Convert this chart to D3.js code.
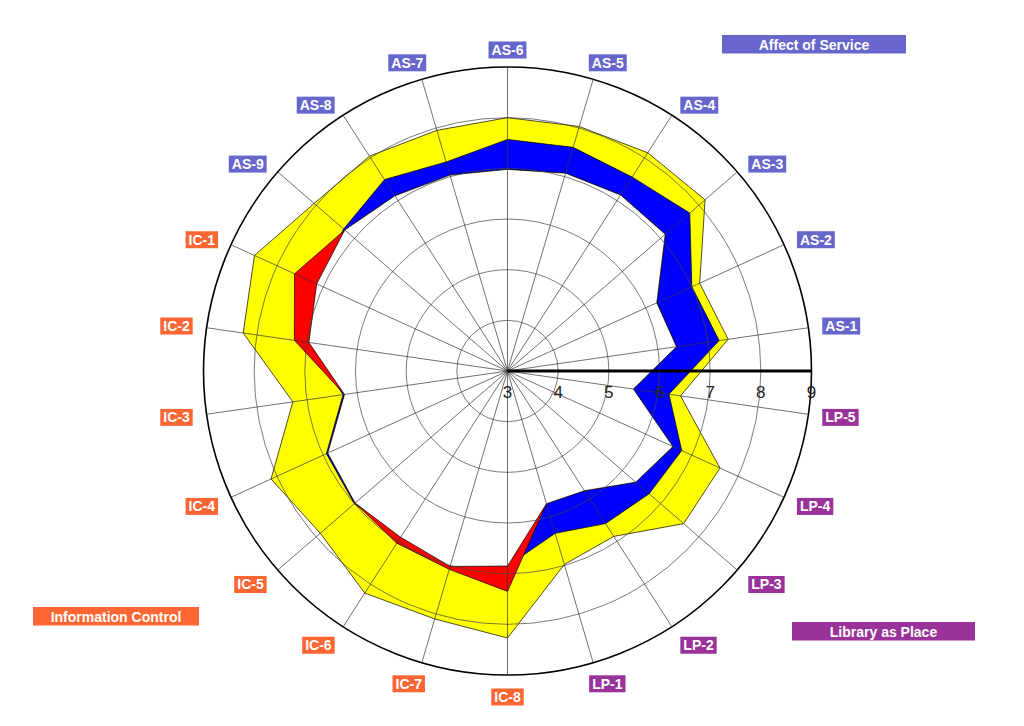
<html>
<script src='https://d3js.org/d3.v7.min.js'></script>
<style>
body {margin:0; background:#fff;}
text {font-family: "Liberation Sans", Arial, sans-serif;}
</style>
<body onload='init()'>
<svg width=1024 height=726></svg>
<script>
// dimensions, AS-1..AS-9, IC-1..IC-8, LP-1..LP-5 (counter-clockwise)
var categories = ["AS-1","AS-2","AS-3","AS-4","AS-5","AS-6","AS-7","AS-8","AS-9",
  "IC-1","IC-2","IC-3","IC-4","IC-5","IC-6","IC-7","IC-8",
  "LP-1","LP-2","LP-3","LP-4","LP-5"];

var minimum = [6.37,6.24,7.12,7.13,7.07,6.98,7.03,7.11,7.25,
  7.62,7.25,6.25,6.90,6.98,7.04,7.08,7.35,
  5.73,5.81,6.35,6.59,5.51];

var perceived = [7.22,7.00,7.76,7.55,7.60,7.57,7.30,7.49,7.28,
  7.14,6.96,6.28,6.93,7.00,6.90,7.02,6.85,
  6.34,6.58,6.70,6.78,6.22];

var desired = [7.40,7.17,8.16,8.12,8.03,8.00,7.95,8.04,8.05,
  8.49,8.27,7.28,8.13,7.89,8.21,8.10,8.27,
  6.98,6.88,7.60,7.61,6.45];

var tickValues = [3,4,5,6,7,8,9];
var groupNames = ["Affect of Service","Information Control","Library as Place"];
var groupKeys = ["AS","IC","LP"];
var groupColors = ["#6666cc","#ff6633","#993399"];

function init() {
  var cx = 507.5, cy = 371, R = 304;
  var svg = d3.select("svg");

  var r = d3.scaleLinear().domain([3,9]).range([0,R]);
  var step = 2*Math.PI/categories.length;
  // angle clockwise from north
  function ang(i) { return Math.PI/2 - step*(i+0.5); }

  var g = svg.append("g").attr("transform","translate(" + cx + "," + cy + ")");

  var line = d3.lineRadial()
    .angle(function(d,i){ return ang(i); })
    .radius(function(d){ return r(d); })
    .curve(d3.curveLinearClosed);

  var inner = minimum.map(function(m,i){ return Math.min(m, perceived[i]); });

  var layers = [[desired,"#ffff00"],[perceived,"#0000ff"],[minimum,"#ff0000"],[inner,"#ffffff"]];
  g.selectAll("path.area")
    .data(layers)
    .enter()
    .append("path")
      .attr("class","area")
      .attr("d", function(d){ return line(d[0]); })
      .attr("fill", function(d){ return d[1]; })
      .attr("stroke","#000")
      .attr("stroke-width",0.7)
      .attr("stroke-linejoin","miter");

  // rings
  g.selectAll("circle.ring")
    .data(tickValues.slice(1))
    .enter()
    .append("circle")
      .attr("class","ring")
      .attr("r", function(d){ return r(d); })
      .attr("fill","none")
      .attr("stroke", function(d){ return d == 9 ? "#000" : "#444"; })
      .attr("stroke-width", function(d){ return d == 9 ? 1.6 : 0.7; });

  // spokes
  g.selectAll("line.spoke")
    .data(categories)
    .enter()
    .append("line")
      .attr("class","spoke")
      .attr("x1",0).attr("y1",0)
      .attr("x2", function(d,i){ return r(9)*Math.sin(ang(i)); })
      .attr("y2", function(d,i){ return -r(9)*Math.cos(ang(i)); })
      .attr("stroke","#333")
      .attr("stroke-width",0.7);

  // value axis
  g.append("line")
    .attr("x1",0).attr("y1",0)
    .attr("x2",r(9)).attr("y2",0)
    .attr("stroke","#000")
    .attr("stroke-width",3);

  g.selectAll("text.tick")
    .data(tickValues)
    .enter()
    .append("text")
      .attr("class","tick")
      .attr("x", function(d){ return r(d); })
      .attr("y", 27)
      .attr("text-anchor","middle")
      .attr("font-size","17px")
      .attr("fill","#222")
      .text(function(d){ return d; });

  // category labels: box hangs off an anchor just outside the outer ring
  var lab = g.selectAll("g.lab")
    .data(categories)
    .enter()
    .append("g")
      .attr("class","lab");

  lab.append("text")
    .attr("text-anchor","middle")
    .attr("y",5)
    .attr("font-size","14px")
    .attr("font-weight","bold")
    .attr("fill","#fff")
    .text(function(d){ return d; });

  lab.each(function(d,i){
    var a = ang(i), s = Math.sin(a), c = Math.cos(a);
    var w = this.querySelector("text").getComputedTextLength() + 6, h = 17;
    var ax = (R+12)*s, ay = -(R+12)*c;
    var dx = (w/2 + 2) * Math.max(-1, Math.min(1, s*1.9));
    var dy = c >= 0 ? (Math.abs(s) < 0.5 ? -5 : 0) : -c*10;
    d3.select(this).attr("transform","translate(" + (ax+dx) + "," + (ay+dy) + ")");
    d3.select(this).insert("rect","text")
      .attr("x",-w/2).attr("y",-h/2)
      .attr("width",w).attr("height",h)
      .attr("fill", groupColors[groupKeys.indexOf(d.slice(0,2))]);
  });

  // group legend boxes
  var legendPos = [[722,35,184],[33,607,166],[792,622,183]];
  var leg = svg.selectAll("g.leg")
    .data(groupNames)
    .enter()
    .append("g")
      .attr("class","leg")
      .attr("transform", function(d,i){ return "translate(" + legendPos[i][0] + "," + legendPos[i][1] + ")"; });

  leg.append("rect")
    .attr("width", function(d,i){ return legendPos[i][2]; })
    .attr("height",18.5)
    .attr("fill", function(d,i){ return groupColors[i]; });

  leg.append("text")
    .attr("x", function(d,i){ return legendPos[i][2]/2; })
    .attr("y",14.5)
    .attr("text-anchor","middle")
    .attr("font-size","14px")
    .attr("font-weight","bold")
    .attr("fill","#fff")
    .text(function(d){ return d; });
}
</script>
</body>
</html>
